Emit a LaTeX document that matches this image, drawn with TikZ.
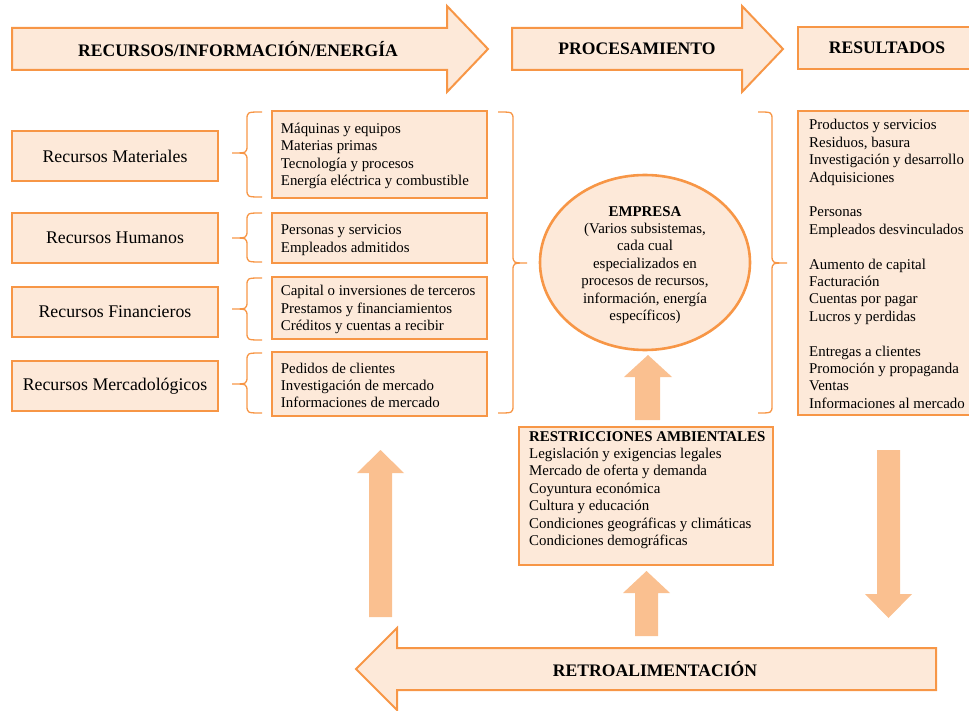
\documentclass[tikz,border=0pt]{standalone}
\usepackage{fontspec}
\setmainfont{Liberation Serif}
\usetikzlibrary{shapes.geometric}
\definecolor{peach}{HTML}{FDE9D9}
\definecolor{edgeor}{HTML}{F79646}
\definecolor{flow}{HTML}{FAC090}

% opening brace "{" : end x, stem x, tip x, top, tip y, bottom
\newcommand\openbrace[6]{%
  \draw[bracestyle] (#1,#4) .. controls (#2,#4) .. (#2,#4+8) -- (#2,#5-8)
    .. controls (#2,#5) .. (#3,#5) .. controls (#2,#5) .. (#2,#5+8)
    -- (#2,#6-8) .. controls (#2,#6) .. (#1,#6);}
% closing brace "}"
\newcommand\closebrace[6]{%
  \draw[bracestyle] (#1,#4) .. controls (#2,#4) .. (#2,#4+8) -- (#2,#5-8)
    .. controls (#2,#5) .. (#3,#5) .. controls (#2,#5) .. (#2,#5+8)
    -- (#2,#6-8) .. controls (#2,#6) .. (#1,#6);}
% vertical block arrow: shaft x-range, head x-range, tip y, head base y, tail y
\newcommand\vblock[7]{%
  \fill[flow] (#1,#7) -- (#1,#6) -- (#3,#6) -- ({(#3+#4)/2},#5) -- (#4,#6)
    -- (#2,#6) -- (#2,#7) -- cycle;}

\begin{document}
\begin{tikzpicture}[x=1pt,y=-1pt,
  bigarrow/.style={fill=peach,draw=edgeor,line width=2pt,line join=miter},
  head/.style={font=\fontsize{17.6}{20}\selectfont\bfseries,inner sep=0},
  labelbox/.style={rectangle,fill=peach,draw=edgeor,line width=2.6pt,
    minimum width=206,minimum height=50,inner sep=0,
    font=\fontsize{17.8}{20}\selectfont},
  listbox/.style={rectangle,fill=peach,draw=edgeor,line width=2.6pt,
    minimum width=215,inner sep=0},
  listtext/.style={anchor=west,align=left,inner sep=0,
    font=\fontsize{14.9}{17.4}\selectfont},
  bracestyle/.style={draw=edgeor,line width=1.3pt}]
\useasboundingbox (0,0) rectangle (969,711);
\clip (0,0) rectangle (969,711);

% ---- top flow arrows and heading
\draw[bigarrow] (12,28) -- (447,28) -- (447,6) -- (488,49) -- (447,92)
  -- (447,70) -- (12,70) -- cycle;
\node[head] (hrec) at (238,49) {RECURSOS/INFORMACIÓN/ENERGÍA};
\draw[bigarrow] (512,28) -- (742,28) -- (742,6) -- (783,49) -- (742,92)
  -- (742,70) -- (512,70) -- cycle;
\node[head] (hproc) at (637,49) {PROCESAMIENTO};
\draw[bigarrow] (798,27) rectangle (985,69);
\node[head] (hres) at (887,48) {RESULTADOS};

% ---- resource categories
\node[labelbox] (mat) at (115,156) {Recursos Materiales};
\node[labelbox] (hum) at (115,238) {Recursos Humanos};
\node[labelbox] (fin) at (115,312) {Recursos Financieros};
\node[labelbox] (mer) at (115,386) {Recursos Mercadológicos};

% ---- braces joining categories and their detail
\openbrace{262}{247}{232}{112}{153}{197}
\openbrace{262}{247}{232}{213}{238}{262}
\openbrace{262}{247}{232}{278}{309}{340}
\openbrace{262}{247}{232}{353}{384}{413}

% ---- detail boxes
\node[listbox,minimum height=87] (dmat) at (379.5,154.5) {};
\node[listtext] (tmat) at ([xshift=10]dmat.west |- 0,156)
  {Máquinas y equipos\\Materias primas\\Tecnología y procesos\\Energía eléctrica y combustible};
\node[listbox,minimum height=50] (dhum) at (379.5,238) {};
\node[listtext] (thum) at ([xshift=10]dhum.west |- 0,240)
  {Personas y servicios\\Empleados admitidos};
\node[listbox,minimum height=62] (dfin) at (379.5,308) {};
\node[listtext] (tfin) at ([xshift=10]dfin.west |- 0,309.5)
  {Capital o inversiones de terceros\\Prestamos y financiamientos\\Créditos y cuentas a recibir};
\node[listbox,minimum height=64] (dmer) at (379.5,384) {};
\node[listtext] (tmer) at ([xshift=10]dmer.west |- 0,385.5)
  {Pedidos de clientes\\Investigación de mercado\\Informaciones de mercado};

% ---- inputs gathered into the company
\closebrace{498}{513}{527}{112}{263}{413}
\node[ellipse,fill=peach,draw=edgeor,line width=2.6pt,minimum width=210,
  minimum height=175,inner sep=0] (emp) at (645,262.5) {};
\node[align=center,inner sep=0,font=\fontsize{14.9}{17.4}\selectfont]
  (temp) at (645,265)
  {\textbf{EMPRESA}\\(Varios subsistemas,\\cada cual\\especializados en\\procesos de recursos,\\información, energía\\específicos)};
\closebrace{758}{772}{787}{112}{263}{413}

% ---- results
\draw[fill=peach,draw=edgeor,line width=2.6pt] (798,111) rectangle (990,415);
\node[listtext] (tres) at (809,264)
  {Productos y servicios\\Residuos, basura\\Investigación y desarrollo\\Adquisiciones\\[17.4pt]
   Personas\\Empleados desvinculados\\[17.4pt]
   Aumento de capital\\Facturación\\Cuentas por pagar\\Lucros y perdidas\\[17.4pt]
   Entregas a clientes\\Promoción y propaganda\\Ventas\\Informaciones al mercado};

% ---- environmental constraints
\node[rectangle,fill=peach,draw=edgeor,line width=2.6pt,minimum width=254,
  minimum height=138,inner sep=0] (restr) at (646,496) {};
\node[listtext] (trestr) at (529,490)
  {\textbf{RESTRICCIONES AMBIENTALES}\\Legislación y exigencias legales\\Mercado de oferta y demanda\\Coyuntura económica\\Cultura y educación\\Condiciones geográficas y climáticas\\Condiciones demográficas};

% ---- feedback loop arrows
\vblock{635}{660}{624}{672}{355}{377}{420}
\vblock{635}{658}{623}{670}{571}{593}{636}
\vblock{369}{392}{357}{404}{450}{473}{617}
\fill[flow] (877,450) -- (877,594) -- (865,594) -- (888.5,618) -- (912,594)
  -- (900,594) -- (900,450) -- cycle;

\draw[bigarrow] (936,648) -- (397,648) -- (397,628) -- (356,669) -- (397,710)
  -- (397,690) -- (936,690) -- cycle;
\node[head] (hretro) at (655,669) {RETROALIMENTACIÓN};
\end{tikzpicture}
\end{document}
